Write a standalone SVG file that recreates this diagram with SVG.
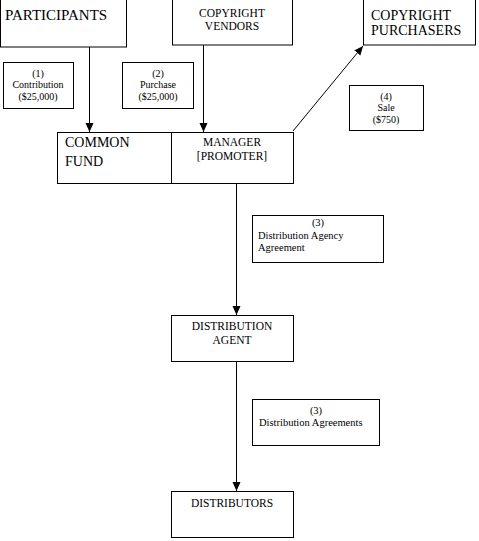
<svg xmlns="http://www.w3.org/2000/svg" width="479" height="541" viewBox="0 0 479 541">
<defs>
<style>
.box{fill:#fff;stroke:#000;stroke-width:1}
text{font-family:'Liberation Serif','Times New Roman','DejaVu Serif',serif;fill:#000}
.big{font-size:14px}
.xbig{font-size:15px}
.med{font-size:11.5px}
.sm{font-size:10px}
.sm2{font-size:10.5px}
.c{text-anchor:middle}
.ln{stroke:#000;stroke-width:1;fill:none}
</style>
<marker id="ah" markerWidth="10" markerHeight="10" refX="9" refY="5" orient="auto" markerUnits="userSpaceOnUse">
<path d="M0,1 L9,5 L0,9 Z" fill="#000"/>
</marker>
</defs>
<rect width="479" height="541" fill="#fff"/>
<g font-family="Liberation Serif, Times New Roman, serif">
<g id="participants"><rect class="box" x="0.5" y="-1" width="126" height="48"/><text class="xbig" x="5" y="20">PARTICIPANTS</text></g>
<g id="vendors"><rect class="box" x="172.5" y="-1" width="120" height="46"/><text class="med c" x="232" y="17">COPYRIGHT</text><text class="med c" x="232" y="30">VENDORS</text></g>
<g id="purchasers"><rect class="box" x="363.5" y="-1" width="112" height="46"/><text class="big" x="371" y="20">COPYRIGHT</text><text class="big" x="371" y="35">PURCHASERS</text></g>
<g id="label1"><rect class="box" x="3.5" y="62.5" width="70" height="46"/><text class="sm c" x="38" y="77">(1)</text><text class="sm c" x="38" y="88">Contribution</text><text class="sm c" x="38" y="100">($25,000)</text></g>
<g id="label2"><rect class="box" x="122.5" y="62.5" width="71" height="46"/><text class="sm c" x="158" y="77">(2)</text><text class="sm c" x="158" y="88">Purchase</text><text class="sm c" x="158" y="100">($25,000)</text></g>
<g id="label4"><rect class="box" x="349.5" y="85.5" width="74" height="45"/><text class="sm c" x="386" y="100">(4)</text><text class="sm c" x="386" y="111">Sale</text><text class="sm c" x="386" y="123">($750)</text></g>
<g id="commonfund"><rect class="box" x="57.5" y="132.5" width="114" height="51"/><text class="big" x="65" y="147">COMMON</text><text class="big" x="65" y="166">FUND</text></g>
<g id="manager"><rect class="box" x="171.5" y="132.5" width="122" height="51"/><text class="med c" x="232" y="146">MANAGER</text><text class="med c" x="232" y="160">[PROMOTER]</text></g>
<g id="label3a"><rect class="box" x="252.5" y="215.5" width="131" height="47"/><text class="sm2 c" x="318" y="226">(3)</text><text class="sm2" x="258" y="239">Distribution Agency</text><text class="sm2" x="258" y="251">Agreement</text></g>
<g id="agent"><rect class="box" x="171.5" y="315.5" width="122" height="46"/><text class="med c" x="232" y="330">DISTRIBUTION</text><text class="med c" x="232" y="344">AGENT</text></g>
<g id="label3b"><rect class="box" x="252.5" y="399.5" width="127" height="46"/><text class="sm2 c" x="316" y="414">(3)</text><text class="sm2" x="259" y="426">Distribution Agreements</text></g>
<g id="distributors"><rect class="box" x="171.5" y="491.5" width="122" height="46"/><text class="med c" x="232" y="507">DISTRIBUTORS</text></g>
</g>
<g id="connectors">
<line class="ln" x1="89.5" y1="47" x2="89.5" y2="132" marker-end="url(#ah)"/>
<line class="ln" x1="203.5" y1="45" x2="203.5" y2="132" marker-end="url(#ah)"/>
<line class="ln" x1="293" y1="131" x2="363" y2="46" marker-end="url(#ah)"/>
<line class="ln" x1="236.5" y1="184" x2="236.5" y2="315" marker-end="url(#ah)"/>
<line class="ln" x1="236.5" y1="362" x2="236.5" y2="491" marker-end="url(#ah)"/>
</g>
</svg>
